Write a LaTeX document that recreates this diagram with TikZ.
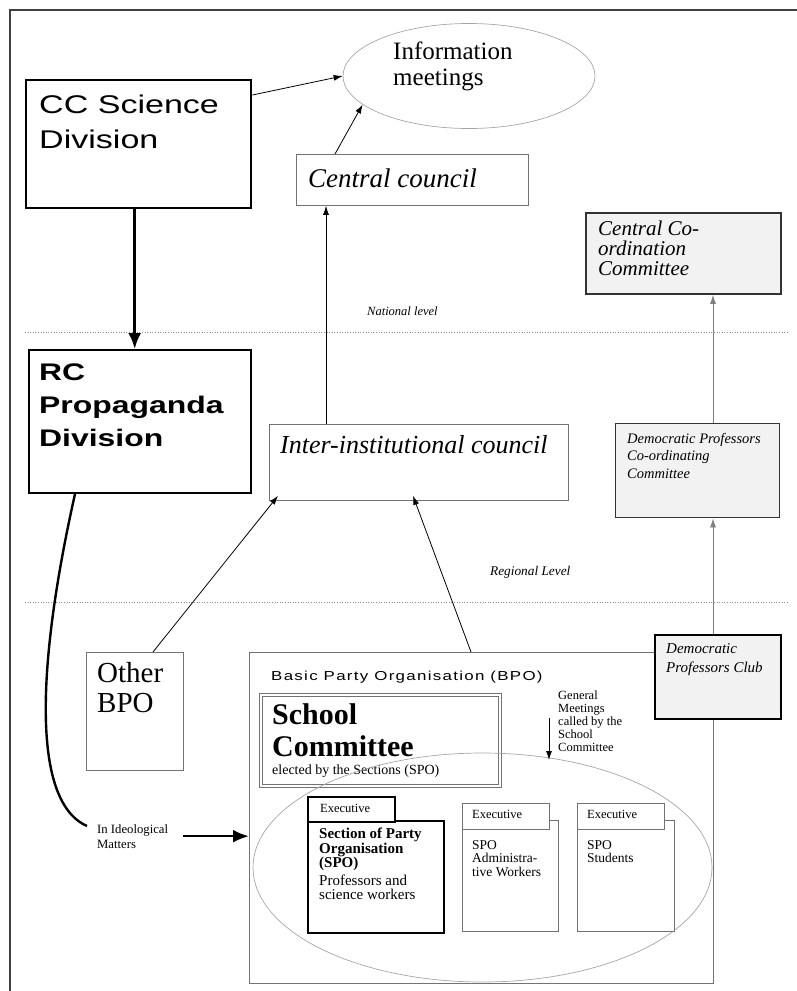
\documentclass[tikz,border=0pt]{standalone}
\usepackage{fontspec}
\setmainfont{Liberation Serif}
\newfontfamily\widesans[FakeStretch=1.33]{Liberation Sans}
\newfontfamily\bposans[FakeStretch=1.3,LetterSpace=10]{Liberation Sans}
\usetikzlibrary{arrows.meta,shapes.geometric}

\begin{document}
\begin{tikzpicture}[x=1pt,y=-1pt]
  \tikzset{
    org/.style={draw=black!55,line width=.8pt,inner sep=0pt,anchor=north west},
    heavy/.style={draw=black,line width=2.4pt,inner sep=0pt,anchor=north west},
    shaded/.style={draw=black!80,line width=1.8pt,fill=black!5,inner sep=0pt,anchor=north west},
    txt/.style={inner sep=0pt,anchor=base west,align=left},
    link/.style={-{Latex[length=9pt,width=6pt]},line width=.8pt},
    greylink/.style={link,draw=black!50},
    boldlink/.style={-{Latex[length=16pt,width=13pt]},line width=2.6pt},
    level/.style={draw=black!45,dotted,line width=.6pt}
  }
  \useasboundingbox (0,0) rectangle (797,991);
  \draw[line width=1.2pt,black!75] (10,991) -- (10,10) -- (797,10);

  % national level (text nodes sit on the baseline of their last line)
  \node[heavy,minimum width=225pt,minimum height=128pt] (cc) at (25,79) {};
  \node[txt,font={\widesans\fontsize{25.6}{35}\selectfont}] (cc-t) at (39,148) {CC Science\\Division};
  \node[ellipse,draw=black!35,line width=.7pt,minimum width=252pt,minimum height=105pt,inner sep=0pt] (info) at (469,76) {};
  \node[txt,font={\fontsize{25}{26}\selectfont}] (info-t) at (393,85) {Information\\meetings};
  \node[org,minimum width=232pt,minimum height=51pt] (central) at (296,154) {};
  \node[txt,font={\itshape\fontsize{27}{30}\selectfont}] (central-t) at (308,187) {Central council};
  \node[shaded,minimum width=195pt,minimum height=81pt] (ccc) at (585,212) {};
  \node[txt,font={\itshape\fontsize{21}{20}\selectfont}] (ccc-t) at (598,275) {Central Co-\\ordination\\Committee};

  \draw[level] (25,332) -- (787,332);
  \node[txt,font={\itshape\fontsize{12.5}{14}\selectfont}] (national) at (367,315) {National level};

  % regional level
  \node[heavy,line width=2pt,minimum width=222pt,minimum height=143pt] (rc) at (28,349) {};
  \node[txt,font={\widesans\bfseries\fontsize{24}{33}\selectfont}] (rc-t) at (39,446) {RC\\Propaganda\\Division};
  \node[org,minimum width=299pt,minimum height=76pt] (inter) at (269,424) {};
  \node[txt,font={\itshape\fontsize{26}{30}\selectfont}] (inter-t) at (280,453) {Inter-institutional council};
  \node[shaded,line width=1.4pt,minimum width=164pt,minimum height=94pt] (dpcc) at (615,423) {};
  \node[txt,font={\itshape\fontsize{14.5}{17.5}\selectfont}] (dpcc-t) at (627,478) {Democratic Professors\\Co-ordinating\\Committee};

  \draw[level] (25,602) -- (787,602);
  \node[txt,font={\itshape\fontsize{13.3}{15}\selectfont}] (regional) at (490,575) {Regional Level};

  % school level
  \node[org,minimum width=97pt,minimum height=118pt] (other) at (86,652) {};
  \node[txt,font={\fontsize{29}{30}\selectfont}] (other-t) at (97,712) {Other\\BPO};
  \node[org,minimum width=464pt,minimum height=331pt] (bpo) at (249,652) {};
  \node[txt,font={\bposans\fontsize{13}{15}\selectfont}] (bpo-t) at (271,680) {Basic Party Organisation (BPO)};
  \node[org,double,double distance=2.2pt,minimum width=239pt,minimum height=91pt] (school) at (260.5,694.5) {};
  \node[txt,font={\bfseries\fontsize{30}{32}\selectfont}] (school-t) at (272,756) {School\\Committee};
  \node[txt,font={\fontsize{14}{16}\selectfont}] (elect-t) at (272,774) {elected by the Sections (SPO)};
  \node[txt,font={\fontsize{12.5}{13}\selectfont}] (gm-t) at (558,751) {General\\Meetings\\called by the\\School\\Committee};
  \node[shaded,draw=black,line width=2pt,minimum width=126pt,minimum height=84pt] (club) at (654,634) {};
  \node[txt,font={\itshape\fontsize{15}{19}\selectfont}] (club-t) at (666,672) {Democratic\\Professors Club};

  \node[ellipse,draw=black!35,line width=.7pt,minimum width=459pt,minimum height=229pt,inner sep=0pt] (spos) at (482.5,867.5) {};
  \node[heavy,fill=white,minimum width=136pt,minimum height=112pt] (spo1) at (307,820) {};
  \node[heavy,fill=white,minimum width=87pt,minimum height=25pt] (spo1-tab) at (307,796) {};
  \node[txt,font={\fontsize{12.5}{14}\selectfont}] (spo1-x) at (320,812) {Executive};
  \node[txt,font={\fontsize{15}{14.5}\selectfont}] (spo1-t) at (319,899.5) {\textbf{Section of Party}\\\textbf{Organisation}\\\textbf{(SPO)}\\[3pt]Professors and\\science workers};
  \node[org,fill=white,minimum width=96pt,minimum height=111pt] (spo2) at (462,820) {};
  \node[org,fill=white,minimum width=87pt,minimum height=26pt] (spo2-tab) at (462,803) {};
  \node[txt,font={\fontsize{12.5}{14}\selectfont}] (spo2-x) at (472,818) {Executive};
  \node[txt,font={\fontsize{13.5}{13.5}\selectfont}] (spo2-t) at (472,876) {SPO\\Administra-\\tive Workers};
  \node[org,fill=white,minimum width=97pt,minimum height=111pt] (spo3) at (577,820) {};
  \node[org,fill=white,minimum width=87pt,minimum height=26pt] (spo3-tab) at (577,803) {};
  \node[txt,font={\fontsize{12.5}{14}\selectfont}] (spo3-x) at (587,818) {Executive};
  \node[txt,font={\fontsize{13.5}{13.5}\selectfont}] (spo3-t) at (587,862.5) {SPO\\Students};
  \node[txt,font={\fontsize{12.7}{15}\selectfont}] (ideo) at (97,848) {In Ideological\\Matters};

  \coordinate (ccdrop) at ([xshift=-4]cc.south);
  \coordinate (clubtop) at ([xshift=-5]club.north);
  \coordinate (gm-a) at (549,718);
  \coordinate (gm-b) at (549,760);

  \draw[link] ([yshift=-16]cc.north east) -- (info.west);
  \draw[link] ([xshift=39]central.north west) -- (info.195);
  \draw[link] ([xshift=57]inter.north west) -- ([xshift=30]central.south west);
  \draw[boldlink] (ccdrop) -- (ccdrop |- rc.north);
  \draw[link] ([xshift=67]other.north west) -- ([xshift=9,yshift=5]inter.south west);
  \draw[link] ([xshift=222]bpo.north west) -- ([xshift=144,yshift=5]inter.south west);
  \draw[greylink] (clubtop) -- (clubtop |- dpcc.south);
  \draw[greylink] (clubtop |- dpcc.north) -- (clubtop |- ccc.south);
  \draw[link] (gm-a) -- (gm-b);
  \draw[line width=2.4pt] ([xshift=47]rc.south west) .. controls (40,650) and (28,800) .. ([xshift=-10,yshift=-2]ideo.north west);
  \draw[boldlink] ([xshift=15]ideo.east) -- (bpo.west |- ideo.east);
\end{tikzpicture}
\end{document}
